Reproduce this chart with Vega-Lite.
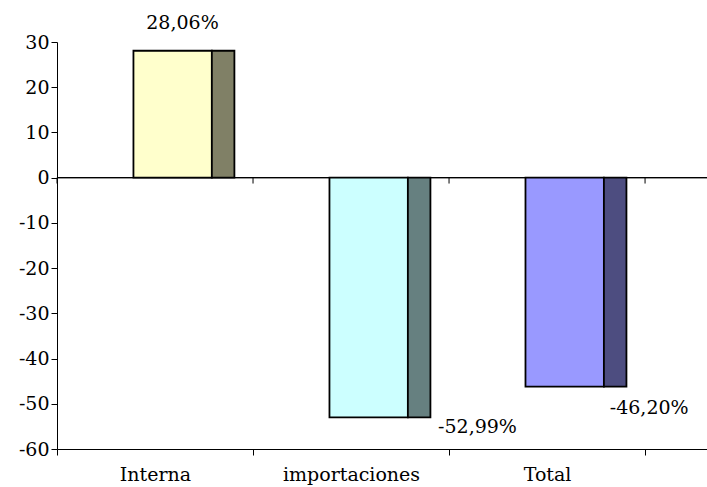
{
  "$schema": "https://vega.github.io/schema/vega-lite/v6.json",
  "width": 650,
  "height": 407,
  "autosize": {"type": "none"},
  "padding": {"left": 57, "top": 42, "right": 0, "bottom": 38},
  "background": "white",
  "config": {
    "view": {"stroke": null},
    "font": "DejaVu Serif",
    "axis": {"labelFont": "DejaVu Serif", "labelFontSize": 19, "labelColor": "black", "domainColor": "black", "tickColor": "black", "grid": false, "title": null}
  },
  "data": {
    "values": [
      {"cat": "Interna", "value": 28.06, "label": "28,06%"},
      {"cat": "importaciones", "value": -52.99, "label": "-52,99%"},
      {"cat": "Total", "value": -46.2, "label": "-46,20%"}
    ]
  },
  "resolve": {"scale": {"color": "independent"}},
  "layer": [
    {
      "mark": {"type": "rule", "color": "black", "strokeWidth": 1},
      "encoding": {
        "y": {"datum": 0, "type": "quantitative", "scale": {"domain": [-60, 30], "nice": false}}
      }
    },
    {
      "mark": {"type": "rule", "color": "black", "strokeWidth": 1},
      "encoding": {
        "x": {"field": "cat", "type": "nominal", "sort": null, "bandPosition": 0,
          "scale": {"paddingInner": 0, "paddingOuter": 0.158, "align": 0},
          "axis": {"orient": "bottom", "bandPosition": 0.5, "tickBand": "extent", "tickSize": 6, "labelPadding": 10, "labelAngle": 0, "labelAlign": "center", "labelOverlap": false}},
        "y": {"datum": 0, "type": "quantitative"},
        "y2": {"datum": -1.3}
      }
    },
    {
      "transform": [{"filter": "datum.cat === 'Total'"}],
      "mark": {"type": "rule", "color": "black", "strokeWidth": 1},
      "encoding": {
        "x": {"field": "cat", "type": "nominal", "sort": null, "bandPosition": 1},
        "y": {"datum": 0, "type": "quantitative"},
        "y2": {"datum": -1.3}
      }
    },
    {
      "mark": {"type": "bar", "stroke": "black", "strokeWidth": 1.8},
      "encoding": {
        "x": {"field": "cat", "type": "nominal", "sort": null, "bandPosition": 0.39},
        "x2": {"field": "cat", "bandPosition": 0.79},
        "y": {"field": "value", "type": "quantitative", "scale": {"domain": [-60, 30], "nice": false},
          "axis": {"values": [-60, -50, -40, -30, -20, -10, 0, 10, 20, 30], "tickSize": 6, "labelPadding": 2, "labelExpr": "'' + datum.value"}},
        "y2": {"datum": 0},
        "color": {"field": "cat", "type": "nominal", "legend": null,
          "scale": {"domain": ["Interna", "importaciones", "Total"], "range": ["#FFFFCC", "#CCFFFF", "#9999FF"]}}
      }
    },
    {
      "mark": {"type": "bar", "stroke": "black", "strokeWidth": 1.8},
      "encoding": {
        "x": {"field": "cat", "type": "nominal", "sort": null, "bandPosition": 0.79},
        "x2": {"field": "cat", "bandPosition": 0.905},
        "y": {"field": "value", "type": "quantitative"},
        "y2": {"datum": 0},
        "color": {"field": "cat", "type": "nominal", "legend": null,
          "scale": {"domain": ["Interna", "importaciones", "Total"], "range": ["#808066", "#668080", "#4D4D80"]}}
      }
    },
    {
      "transform": [{"filter": "datum.cat === 'Interna'"}],
      "mark": {"type": "text", "align": "center", "baseline": "bottom", "dy": -18, "fontSize": 19, "color": "black"},
      "encoding": {
        "x": {"field": "cat", "type": "nominal", "sort": null, "bandPosition": 0.64},
        "y": {"field": "value", "type": "quantitative"},
        "text": {"field": "label"}
      }
    },
    {
      "transform": [{"filter": "datum.cat === 'importaciones'"}],
      "mark": {"type": "text", "align": "left", "baseline": "top", "dy": 1, "fontSize": 19, "color": "black"},
      "encoding": {
        "x": {"field": "cat", "type": "nominal", "sort": null, "bandPosition": 0.944},
        "y": {"field": "value", "type": "quantitative"},
        "text": {"field": "label"}
      }
    },
    {
      "transform": [{"filter": "datum.cat === 'Total'"}],
      "mark": {"type": "text", "align": "left", "baseline": "top", "dy": 12, "fontSize": 19, "color": "black"},
      "encoding": {
        "x": {"field": "cat", "type": "nominal", "sort": null, "bandPosition": 0.82},
        "y": {"field": "value", "type": "quantitative"},
        "text": {"field": "label"}
      }
    }
  ]
}
